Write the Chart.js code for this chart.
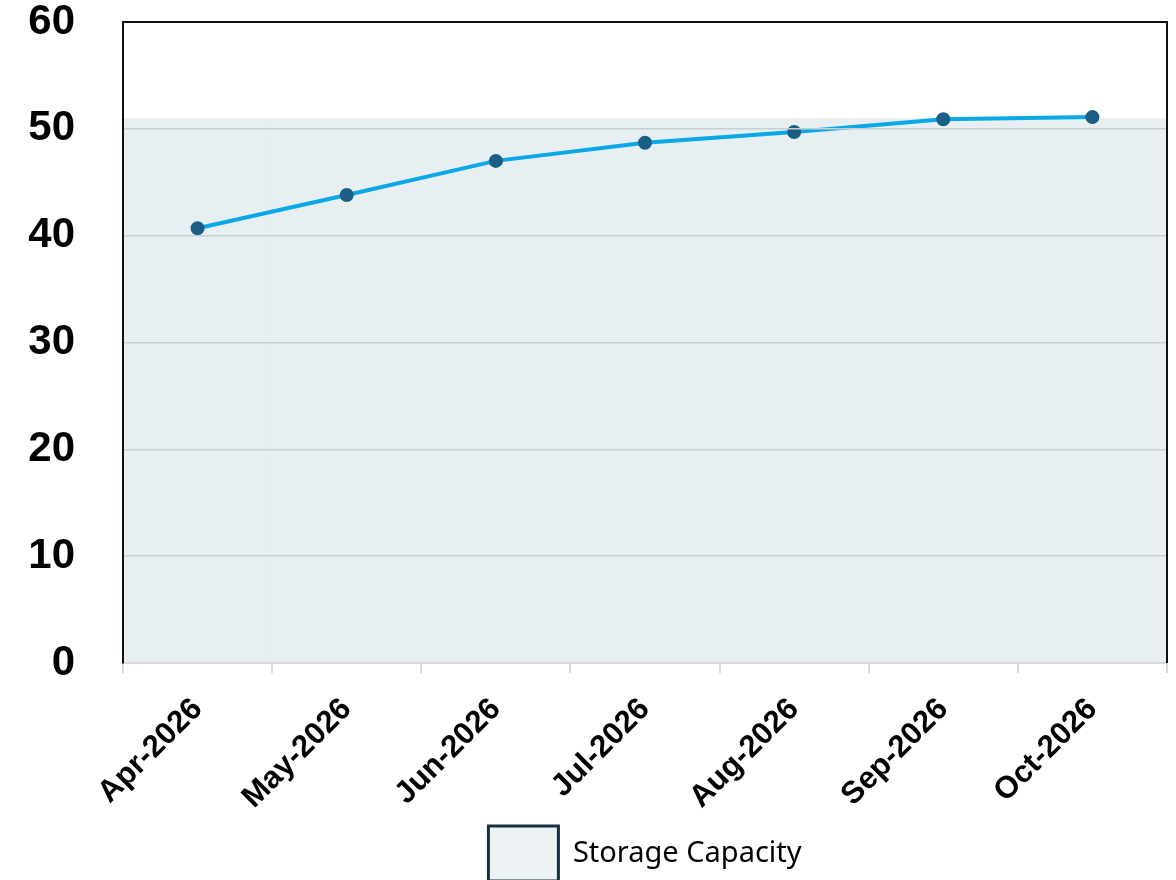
<!DOCTYPE html>
<html>
<head>
<meta charset="utf-8">
<script src="https://cdn.jsdelivr.net/npm/chart.js@4.4.1/dist/chart.umd.min.js"></script>
<style>
  html, body { margin: 0; padding: 0; background: #fff; overflow: hidden; }
  #wrap { position: relative; width: 1176px; height: 891px; }
</style>
</head>
<body>
<div id="wrap"><canvas id="grafica"></canvas></div>
<script>
// months on the x axis
const meses = ['Apr-2026', 'May-2026', 'Jun-2026', 'Jul-2026', 'Aug-2026', 'Sep-2026', 'Oct-2026'];
// storage curve (line)
const almacenamiento = [40.7, 43.8, 47.0, 48.7, 49.7, 50.9, 51.1];
// storage capacity (shaded band)
const capacidad = [51, 51, 51, 51, 51, 51, 51];
// y axis ticks
const ticksY = [0, 10, 20, 30, 40, 50, 60];

// black frame on top and right of plot area
const marcoPlugin = {
    id: 'marco',
    afterDraw(chart) {
        const { ctx, chartArea: a } = chart;
        ctx.save();
        ctx.strokeStyle = '#111';
        ctx.lineWidth = 2;
        ctx.beginPath();
        ctx.moveTo(a.left, a.top);
        ctx.lineTo(a.right, a.top);
        ctx.lineTo(a.right, a.bottom);
        ctx.stroke();
        ctx.restore();
    }
};

const ctx = document.getElementById('grafica').getContext('2d');
new Chart(ctx, {
    type: 'bar',
    data: {
        labels: meses,
        datasets: [
            {
                type: 'line',
                label: 'Storage',
                data: almacenamiento,
                borderColor: '#0aa8e6',
                borderWidth: 4,
                pointBackgroundColor: '#1b5e85',
                pointBorderColor: '#1b5e85',
                pointRadius: 5,
                tension: 0,
                order: 1
            },
            {
                type: 'bar',
                label: 'Storage Capacity',
                data: capacidad,
                backgroundColor: '#e7eff2',
                borderWidth: 0,
                barPercentage: 1.02,
                categoryPercentage: 1,
                order: 2
            }
        ]
    },
    options: {
        responsive: true,
        maintainAspectRatio: false,
        animation: false,
        layout: { padding: { right: 1 } },
        plugins: {
            tooltip: { enabled: false },
            legend: {
                position: 'bottom',
                fullSize: false,
                labels: {
                    boxWidth: 70,
                    boxHeight: 55,
                    padding: 10,
                    color: '#222',
                    font: { family: "'Noto Sans', 'Open Sans', sans-serif", size: 29 },
                    generateLabels: () => [{
                        text: 'Storage Capacity',
                        fillStyle: '#edf2f5',
                        strokeStyle: '#17303f',
                        lineWidth: 3,
                        datasetIndex: 1
                    }]
                }
            }
        },
        scales: {
            x: {
                offset: true,
                afterFit: (scale) => {
                    scale.height = 153;
                    scale.paddingRight = 0;
                },
                grid: {
                    offset: true,
                    z: 1,
                    drawOnChartArea: false,
                    drawTicks: true,
                    tickLength: 10,
                    color: '#d9d9d9',
                    lineWidth: 2
                },
                border: { color: '#d9d9d9', width: 2, z: 1 },
                ticks: {
                    minRotation: 45,
                    maxRotation: 45,
                    color: '#000',
                    padding: 18,
                    font: { family: "'Liberation Sans', Arial, sans-serif", size: 31, weight: 'bold' }
                }
            },
            y: {
                min: 0,
                max: 60,
                afterFit: (scale) => {
                    scale.width = 123;
                    scale.paddingTop = 22;
                    scale.paddingBottom = 0;
                },
                grid: {
                    z: 1,
                    drawTicks: false,
                    lineWidth: 1.5,
                    color: (c) => (c.tick && (c.tick.value === 0 || c.tick.value === 60)) ? 'rgba(0,0,0,0)' : '#c8cfd3'
                },
                border: { color: '#111', width: 2, z: 1 },
                ticks: {
                    stepSize: 10,
                    padding: 48,
                    color: '#000',
                    callback: (v) => ticksY.includes(v) ? String(v) : '',
                    font: { family: "'Liberation Sans', Arial, sans-serif", size: 42, weight: 'bold' }
                }
            }
        }
    },
    plugins: [marcoPlugin]
});
</script>
</body>
</html>
